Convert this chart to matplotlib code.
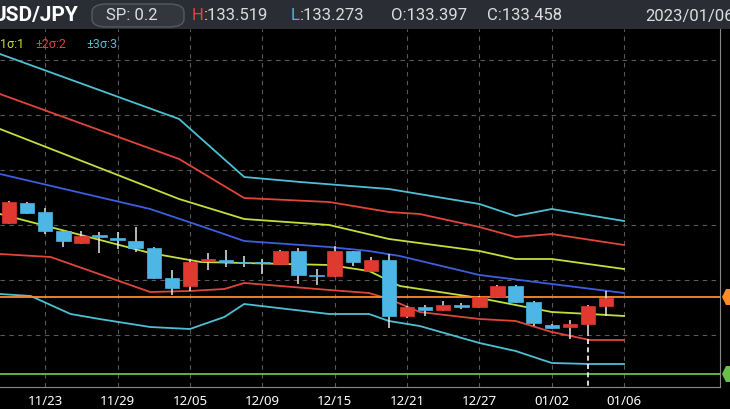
import numpy as np
import matplotlib
matplotlib.use("Agg")
import matplotlib.pyplot as plt
from matplotlib.patches import FancyBboxPatch, Polygon, Rectangle

# == data (chart levels, axis inverted: small = high) ==
opens  = [224, 204, 213, 232, 244, 236, 239, 242, 249, 279, 287, 262, 261, 263, 263, 265, 252, 276,
          277, 252, 272, 261, 317, 308, 311, 306, 308, 298, 287, 303, 326, 328, 325, 307]
closes = [203, 214, 232, 242, 237, 238, 241, 249, 279, 289, 263, 260, 263, 263, 263, 252, 276, 276,
          252, 263, 261, 317, 308, 311, 306, 308, 298, 287, 303, 324, 329, 325, 307, 299]
highs  = [202, 203, 209, 232, 232, 233, 233, 228, 248, 271, 260, 254, 251, 257, 260, 251, 249, 270,
          247, 252, 258, 255, 307, 306, 302, 304, 297, 286, 286, 302, 325, 321, 306, 292]
lows   = [225, 215, 235, 248, 245, 254, 250, 253, 280, 296, 292, 271, 268, 268, 275, 266, 285, 286,
          278, 267, 273, 329, 319, 317, 312, 310, 309, 299, 304, 327, 330, 340, 337, 317]

date_idx    = [2, 6, 10, 14, 18, 22, 26, 30, 34]
date_labels = ["11/23", "11/29", "12/05", "12/09", "12/15", "12/21", "12/27", "01/02", "01/06"]

up3_x = [-0.5, 9.4, 13.0, 16.1, 21.0, 26.0, 28.0, 30.0, 34.0]
up3_y = [55, 120, 178, 183, 190, 205, 217, 210, 222]
up2_x = [-0.5, 9.4, 13.0, 17.7, 21.0, 22.7, 26.0, 28.0, 30.0, 34.0]
up2_y = [95, 160, 199, 203, 213, 215, 228, 238, 235, 246]
up1_x = [-0.5, 9.4, 13.0, 17.7, 21.0, 26.0, 28.0, 30.0, 34.0]
up1_y = [130, 200, 220, 226, 240, 252, 260, 260, 270]
mid_x = [-0.5, 7.8, 10.6, 13.0, 17.7, 19.9, 21.6, 26.0, 30.0, 34.0]
mid_y = [175, 210, 227, 242, 248, 252, 257, 276, 285, 294]
dn1_x = [-0.5, 7.8, 10.6, 17.7, 19.9, 21.6, 26.0, 30.0, 32.1, 34.0]
dn1_y = [215, 254, 263, 266, 272, 287, 299, 313, 315, 317]
dn2_x = [-0.5, 2.3, 7.8, 10.0, 11.9, 13.0, 17.7, 19.9, 21.0, 22.7, 26.0, 28.0, 30.0, 32.1, 34.0]
dn2_y = [255, 258, 293, 292, 290, 284, 291, 294, 300, 313, 320, 322, 333, 341, 341]
dn3_x = [-0.5, 1.2, 3.4, 5.0, 7.8, 10.0, 11.9, 13.0, 17.7, 19.9, 21.0, 22.7, 26.0, 28.0, 30.0, 32.1, 34.0]
dn3_y = [295, 297, 315, 320, 328, 330, 318, 305, 315, 315, 322, 327, 344, 352, 364, 365, 365]

last_level = 298
low_level  = 375
grid_levels = [61, 116, 171, 226, 281, 336]

RED, BLUE = '#e0392f', '#4db6e4'
W, H = 730, 410

fig = plt.figure(figsize=(W / 100, H / 100), dpi=100, facecolor='black')

# header strip
fig.patches.append(Rectangle((0, 1 - 30 / H), 1, 30 / H, transform=fig.transFigure,
                             facecolor='#2a2d34', edgecolor='none', zorder=0))

ax = fig.add_axes([0, 22 / H, 720 / W, (388 - 30) / H])
ax.set_facecolor('black')
ax.set_xlim(-0.5, 39.3)
ax.set_ylim(388, 30)
for s in ['top', 'left']:
    ax.spines[s].set_visible(False)
for s in ['right', 'bottom']:
    ax.spines[s].set_color('#888888')
    ax.spines[s].set_linewidth(0.8)
ax.set_yticks([])
ax.set_xticks(date_idx)
ax.set_xticklabels(date_labels, color='white', fontsize=9.5, family='Noto Sans')
ax.tick_params(axis='x', length=0, pad=5)

for lv in grid_levels:
    ax.axhline(lv, color='#5a5a5a', lw=0.8, ls=(0, (4, 4)), zorder=1)
for d in date_idx:
    ax.axvline(d, color='#5a5a5a', lw=0.8, ls=(0, (4, 4)), zorder=1)

# bands
for xs, ys, c in [(up3_x, up3_y, '#4ec0d4'), (up2_x, up2_y, '#e0453a'), (up1_x, up1_y, '#c4de3c'),
                  (mid_x, mid_y, '#3c5fe0'), (dn1_x, dn1_y, '#c4de3c'), (dn2_x, dn2_y, '#e0453a'),
                  (dn3_x, dn3_y, '#4ec0d4')]:
    ax.plot(xs, ys, color=c, lw=1.3, zorder=2)

ax.axhline(last_level, color='#ff8a2a', lw=1.3, zorder=2)
ax.axhline(low_level, color='#6abf4b', lw=1.3, zorder=2)

# candles
x = np.arange(len(opens))
for i in x:
    o, c, h, l = opens[i], closes[i], highs[i], lows[i]
    col = RED if c < o else BLUE
    ax.vlines(i, h, l, color='#e6e6e6', lw=1.1, zorder=3)
    top, bot = min(o, c), max(o, c)
    ax.add_patch(Rectangle((i - 0.4, top), 0.8, max(bot - top, 1.2), facecolor=col,
                           edgecolor=col, lw=0.5, zorder=4))

# crosshair stub
ax.vlines(32, 340, 388, color='white', lw=1.2, ls=(0, (3, 2)), zorder=3)

# right side tags
for lv, c in [(last_level, '#ff8a2a'), (low_level, '#6abf4b')]:
    yf = 1 - lv / H
    fig.patches.append(Polygon([(722 / W, yf), (726 / W, yf + 8 / H), (731 / W, yf + 8 / H),
                                (731 / W, yf - 8 / H), (726 / W, yf - 8 / H)],
                               closed=True, transform=fig.transFigure, facecolor=c, edgecolor='none'))

# header texts
def ftext(px, py, s, color, size=12, **kw):
    fig.text(px / W, 1 - py / H, s, color=color, fontsize=size, va='center',
             family='Roboto', **kw)

ftext(-7, 16, "USD/JPY", 'white', size=15, weight='bold')
fig.patches.append(FancyBboxPatch((92 / W, 1 - 28 / H), 92 / W, 23 / H,
                                  boxstyle="round,pad=0,rounding_size=0.02",
                                  transform=fig.transFigure, facecolor='#33363e',
                                  edgecolor='#555a63', lw=1))
ftext(106, 16, "SP: 0.2", '#dddddd')
ftext(192, 16, "H", '#e0453a')
ftext(204, 16, ":133.519", '#dddddd')
ftext(291, 16, "L", '#4db6e4')
ftext(300, 16, ":133.273", '#dddddd')
ftext(391, 16, "O:133.397", '#dddddd')
ftext(487, 16, "C:133.458", '#dddddd')
ftext(734, 16, "2023/01/06", '#dddddd', ha='right')

ftext(0, 45, "1σ:1", '#c4de3c', size=9)
ftext(35, 45, "±2σ:2", '#e0453a', size=9)
ftext(86, 45, "±3σ:3", '#4ec0d4', size=9)

fig.savefig("out.png", dpi=100, facecolor='black')
